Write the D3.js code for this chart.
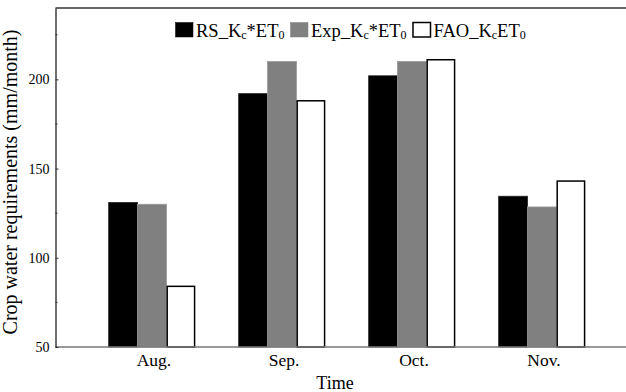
<!DOCTYPE html>
<html>
<head>
<meta charset="utf-8">
<script src="https://cdn.jsdelivr.net/npm/d3@7"></script>
<style>
  body { margin: 0; background: #fff; }
  svg { display: block; font-family: "Liberation Serif", "Times New Roman", serif; }
</style>
</head>
<body>
<div id="chart"></div>
<script>
const months = ["Aug.", "Sep.", "Oct.", "Nov."];
const rsKcEt0 = [131, 192, 202, 134.5];
const expKcEt0 = [130, 210, 210, 128.5];
const faoKcEt0 = [84, 188, 211, 143];
const seriesKeys = ["rs", "exp", "fao"];
const yTicks = [50, 100, 150, 200];
const yMinorTicks = [75, 125, 175, 225];

const w = 626;
const h = 392;
const plotLeft = 55.5, plotTop = 8, plotBottom = 347, plotRight = 626;

const fills = { rs: "#000", exp: "#808080", fao: "#fff" };
const strokes = { rs: "#222", exp: "#999", fao: "#000" };

const rows = months.map((m, i) => ({
  month: m, rs: rsKcEt0[i], exp: expKcEt0[i], fao: faoKcEt0[i]
}));

const svg = d3.select("#chart").append("svg")
  .attr("width", w)
  .attr("height", h);

const x = d3.scaleBand()
  .domain(months)
  .range([87, 607])
  .paddingInner(1 / 3)
  .paddingOuter(1 / 6);

const xSub = d3.scaleBand()
  .domain(seriesKeys)
  .range([0, x.bandwidth()]);

const y = d3.scaleLinear()
  .domain([50, 240])
  .range([plotBottom, plotTop]);

// bars
const groups = svg.selectAll("g.grp")
  .data(rows)
  .enter()
  .append("g")
  .attr("class", "grp")
  .attr("transform", (d) => `translate(${x(d.month)},0)`);

groups.selectAll("rect")
  .data((d) => seriesKeys.map((k) => ({ key: k, value: d[k] })))
  .enter()
  .append("rect")
  .attr("x", (d) => xSub(d.key) + (d.key === "fao" ? 0.75 : 0))
  .attr("y", (d) => y(d.value))
  .attr("width", (d) => xSub.bandwidth() - (d.key === "fao" ? 1.5 : 0))
  .attr("height", (d) => y(50) - y(d.value))
  .attr("fill", (d) => fills[d.key])
  .attr("stroke", (d) => strokes[d.key])
  .attr("stroke-width", (d) => (d.key === "fao" ? 1.5 : 0.8));

// frame lines
svg.append("line")
  .attr("x1", plotLeft).attr("x2", plotRight)
  .attr("y1", plotTop).attr("y2", plotTop)
  .attr("stroke", "#333").attr("stroke-width", 1.5);
svg.append("line")
  .attr("x1", plotLeft).attr("x2", plotRight)
  .attr("y1", plotBottom).attr("y2", plotBottom)
  .attr("stroke", "#777").attr("stroke-width", 1.5);

// y axis with inward ticks
const yAxis = svg.append("g")
  .attr("transform", `translate(${plotLeft},0)`)
  .call(d3.axisLeft(y).tickValues(yTicks).tickSizeInner(-3).tickSizeOuter(0).tickPadding(6));
yAxis.select(".domain").attr("stroke", "#222").attr("stroke-width", 1.3);
yAxis.selectAll(".tick line").attr("stroke", "#333");
yAxis.selectAll(".tick text")
  .attr("font-family", "Liberation Serif")
  .attr("font-size", 14)
  .attr("fill", "#000");

svg.append("g")
  .selectAll("line")
  .data(yMinorTicks)
  .enter()
  .append("line")
  .attr("x1", plotLeft).attr("x2", plotLeft + 2)
  .attr("y1", (d) => y(d)).attr("y2", (d) => y(d))
  .attr("stroke", "#333");

// x labels
svg.append("g")
  .selectAll("text")
  .data(months)
  .enter()
  .append("text")
  .attr("x", (d) => x(d) + x.bandwidth() / 2 + 2)
  .attr("y", 366)
  .attr("text-anchor", "middle")
  .attr("font-size", 17.5)
  .text((d) => d);

// axis titles
svg.append("text")
  .attr("x", 335)
  .attr("y", 389)
  .attr("text-anchor", "middle")
  .attr("font-size", 18)
  .text("Time");

svg.append("text")
  .attr("transform", "translate(17,182) rotate(-90)")
  .attr("text-anchor", "middle")
  .attr("font-size", 20)
  .text("Crop water requirements (mm/month)");

// legend
const legendItems = [
  { key: "rs", x: 175, parts: [["RS_K", 0], ["c", 1], ["*ET", 0], ["0", 1]] },
  { key: "exp", x: 290, parts: [["Exp_K", 0], ["c", 1], ["*ET", 0], ["0", 1]] },
  { key: "fao", x: 412.5, parts: [["FAO_K", 0], ["c", 1], ["ET", 0], ["0", 1]] }
];

const leg = svg.append("g").selectAll("g")
  .data(legendItems)
  .enter()
  .append("g")
  .attr("transform", (d) => `translate(${d.x},22.5)`);

leg.append("rect")
  .attr("x", 0.5).attr("y", 0)
  .attr("width", 17.5).attr("height", 14.5)
  .attr("fill", (d) => fills[d.key])
  .attr("stroke", (d) => (d.key === "fao" ? "#000" : fills[d.key]))
  .attr("stroke-width", (d) => (d.key === "fao" ? 1.5 : 0.5));

const legText = leg.append("text")
  .attr("x", 21)
  .attr("y", 14.5)
  .attr("font-size", 18.5);

legText.selectAll("tspan")
  .data((d) => d.parts)
  .enter()
  .append("tspan")
  .attr("font-size", (p) => (p[1] ? 12 : 18.5))
  .attr("dy", (p, i) => {
    if (p[1]) return 2;
    return i > 0 ? -2 : 0;
  })
  .text((p) => p[0]);
</script>
</body>
</html>
